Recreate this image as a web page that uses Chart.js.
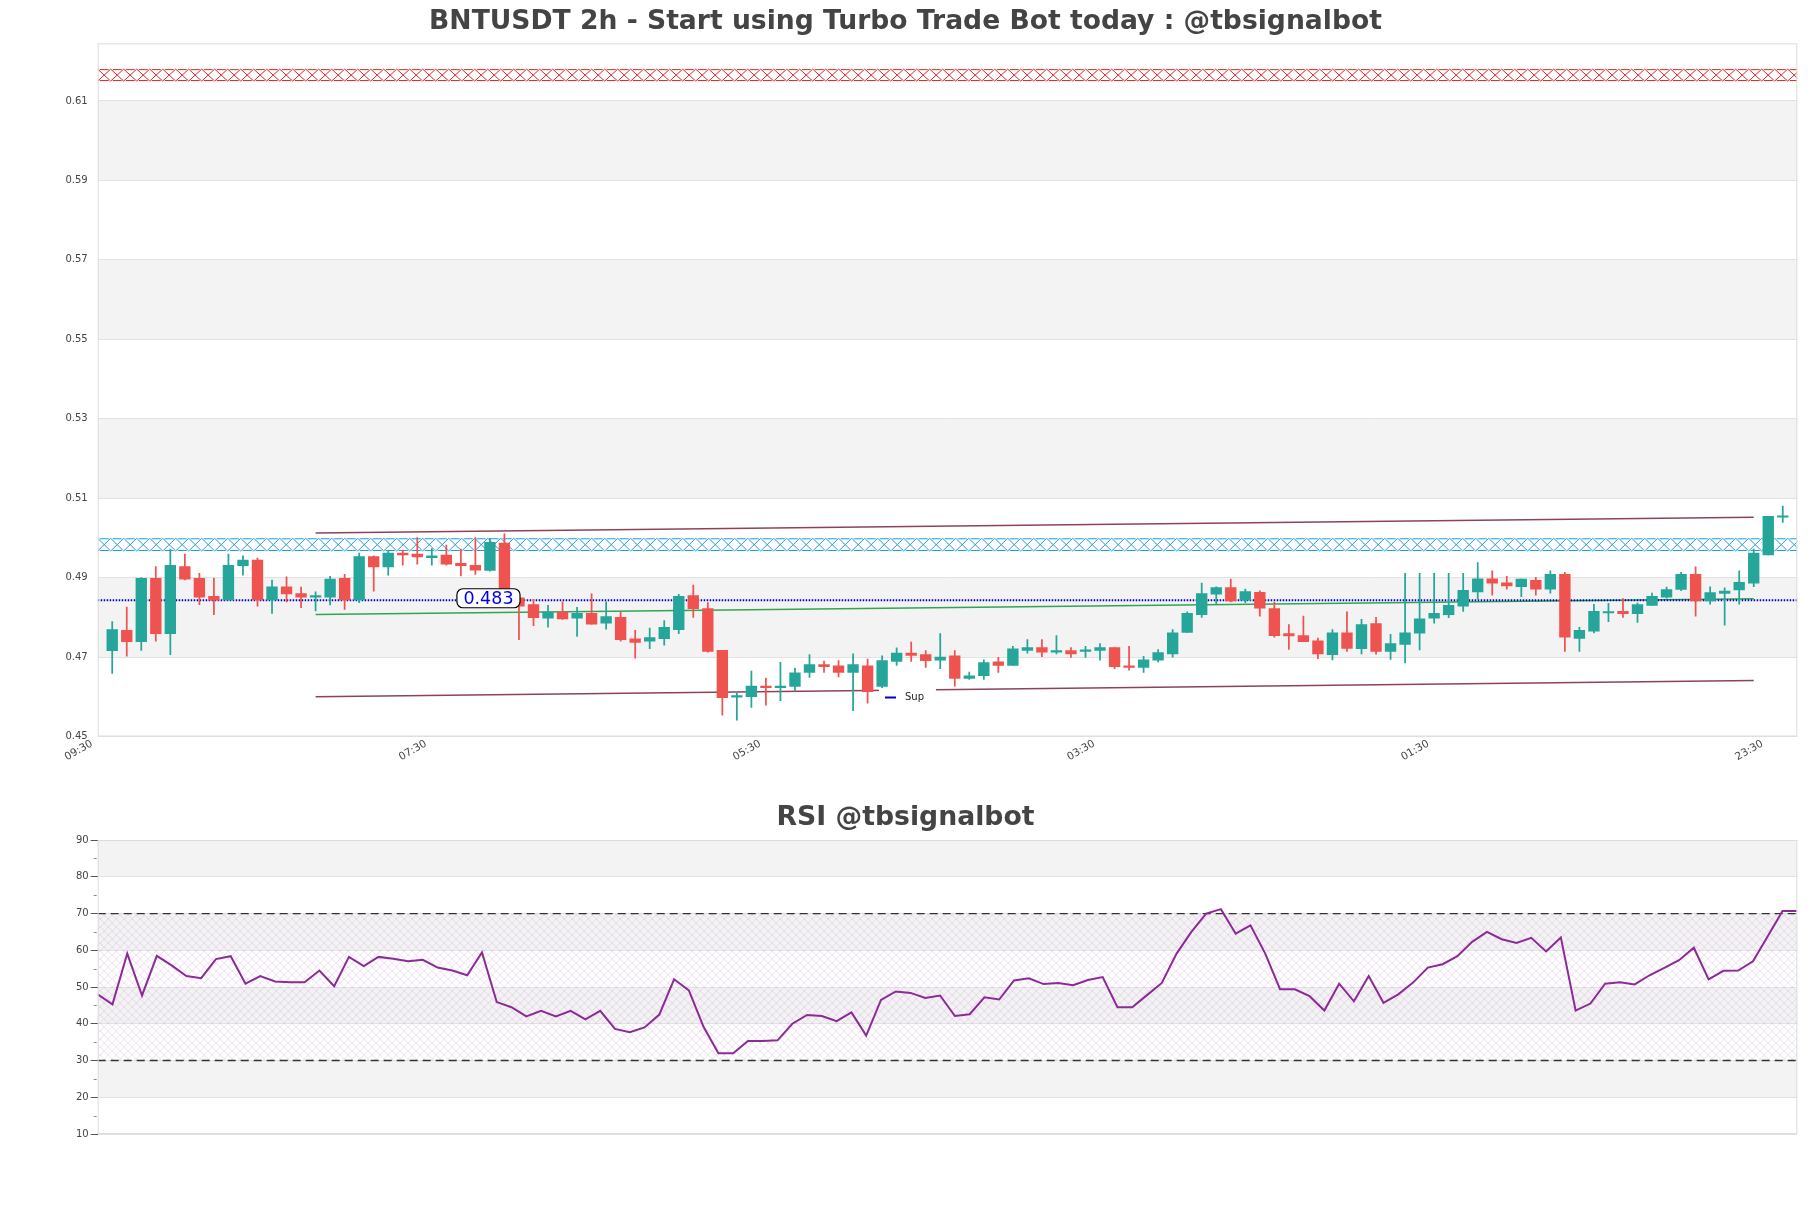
<!DOCTYPE html>
<html><head><meta charset="utf-8">
<script src="https://cdn.jsdelivr.net/npm/chart.js@4.4.1/dist/chart.umd.min.js"></script>
<style>
html,body{margin:0;padding:0;background:#fff;}
#wrap{position:relative;width:1811px;height:1208px;}
canvas{position:absolute;left:0;}
</style></head><body>
<div id="wrap">
<canvas id="main" width="1811" height="790" style="top:0;width:1811px;height:790px"></canvas>
<canvas id="rsi" width="1811" height="418" style="top:790px;width:1811px;height:418px"></canvas>
</div>
<script>
// ---------- DATA ----------
const mainTitle = 'BNTUSDT 2h - Start using Turbo Trade Bot today : @tbsignalbot';
const rsiTitle = 'RSI @tbsignalbot';
const xTickPos = [-1.4, 21.6, 44.6, 67.6, 90.6, 113.6];
const xTickLabels = ['09:30', '07:30', '05:30', '03:30', '01:30', '23:30'];
const yTicks = [0.45, 0.47, 0.49, 0.51, 0.53, 0.55, 0.57, 0.59, 0.61];
const priceGrayBands = [[0.47, 0.49], [0.51, 0.53], [0.55, 0.57], [0.59, 0.61]];

const opens = [
0.4716,0.4767,0.4739,0.4898,0.4759,0.4928,0.4898,0.4853,0.4844,0.4930,
0.4944,0.4844,0.4877,0.4860,0.4851,0.4851,0.4898,0.4844,0.4953,0.4927,
0.4962,0.4959,0.4950,0.4957,0.4936,0.4931,0.4918,0.4987,0.4849,0.4832,
0.4798,0.4813,0.4798,0.4810,0.4785,0.4800,0.4746,0.4740,0.4746,0.4769,
0.4855,0.4822,0.4717,0.4599,0.4600,0.4627,0.4623,0.4626,0.4661,0.4681,
0.4678,0.4661,0.4678,0.4626,0.4689,0.4710,0.4706,0.4692,0.4703,0.4646,
0.4653,0.4688,0.4679,0.4717,0.4724,0.4712,0.4716,0.4714,0.4717,0.4724,
0.4678,0.4674,0.4692,0.4708,0.4762,0.4807,0.4858,0.4875,0.4843,0.4863,
0.4822,0.4759,0.4754,0.4741,0.4706,0.4761,0.4721,0.4784,0.4714,0.4732,
0.4760,0.4798,0.4807,0.4828,0.4864,0.4897,0.4887,0.4877,0.4893,0.4871,
0.4908,0.4747,0.4765,0.4811,0.4815,0.4809,0.4830,0.4851,0.4870,0.4908,
0.4841,0.4860,0.4869,0.4886,0.4957,0.5052];
const closes = [
0.4769,0.4739,0.4898,0.4759,0.4931,0.4896,0.4851,0.4843,0.4931,0.4944,
0.4844,0.4877,0.4859,0.4851,0.4852,0.4896,0.4844,0.4953,0.4927,0.4962,
0.4957,0.4952,0.4955,0.4934,0.4930,0.4919,0.4989,0.4850,0.4828,0.4799,
0.4813,0.4796,0.4810,0.4783,0.4802,0.4744,0.4737,0.4749,0.4775,0.4853,
0.4822,0.4714,0.4598,0.4600,0.4627,0.4623,0.4627,0.4660,0.4681,0.4676,
0.4661,0.4681,0.4613,0.4691,0.4710,0.4704,0.4691,0.4700,0.4646,0.4653,
0.4686,0.4679,0.4721,0.4724,0.4712,0.4716,0.4708,0.4718,0.4724,0.4676,
0.4674,0.4693,0.4711,0.4761,0.4810,0.4860,0.4875,0.4841,0.4865,0.4823,
0.4754,0.4753,0.4739,0.4708,0.4761,0.4722,0.4782,0.4714,0.4734,0.4761,
0.4796,0.4810,0.4830,0.4868,0.4897,0.4886,0.4879,0.4896,0.4871,0.4908,
0.4750,0.4767,0.4815,0.4814,0.4809,0.4832,0.4853,0.4870,0.4908,0.4841,
0.4862,0.4866,0.4888,0.4962,0.5054,0.5054];
const highs = [
0.4789,0.4826,0.4900,0.4928,0.4972,0.4959,0.4911,0.4898,0.4959,0.4955,
0.4949,0.4894,0.4902,0.4876,0.4864,0.4903,0.4908,0.4962,0.4955,0.4968,
0.4969,0.5001,0.4973,0.4982,0.4972,0.5001,0.4999,0.5010,0.4853,0.4845,
0.4830,0.4839,0.4825,0.4859,0.4839,0.4813,0.4767,0.4773,0.4792,0.4858,
0.4881,0.4837,0.4717,0.4609,0.4665,0.4647,0.4687,0.4672,0.4706,0.4690,
0.4691,0.4708,0.4695,0.4703,0.4723,0.4738,0.4716,0.4759,0.4716,0.4662,
0.4693,0.4699,0.4727,0.4744,0.4744,0.4754,0.4724,0.4727,0.4734,0.4724,
0.4727,0.4702,0.4719,0.4769,0.4814,0.4886,0.4877,0.4896,0.4871,0.4867,
0.4838,0.4782,0.4803,0.4748,0.4769,0.4814,0.4795,0.4800,0.4757,0.4911,
0.4911,0.4911,0.4911,0.4911,0.4938,0.4917,0.4903,0.4896,0.4901,0.4917,
0.4913,0.4775,0.4833,0.4835,0.4847,0.4836,0.4861,0.4876,0.4913,0.4927,
0.4877,0.4874,0.4917,0.4972,0.5054,0.5080];
const lows = [
0.4659,0.4702,0.4717,0.4740,0.4706,0.4894,0.4832,0.4807,0.4844,0.4906,
0.4828,0.4810,0.4839,0.4824,0.4816,0.4831,0.4820,0.4837,0.4866,0.4906,
0.4931,0.4934,0.4931,0.4931,0.4904,0.4908,0.4916,0.4850,0.4744,0.4779,
0.4775,0.4795,0.4752,0.4783,0.4770,0.4740,0.4697,0.4721,0.4730,0.4759,
0.4800,0.4712,0.4554,0.4541,0.4573,0.4579,0.4590,0.4615,0.4649,0.4661,
0.4650,0.4565,0.4584,0.4613,0.4679,0.4689,0.4674,0.4671,0.4627,0.4644,
0.4644,0.4661,0.4679,0.4710,0.4701,0.4708,0.4699,0.4699,0.4692,0.4671,
0.4667,0.4661,0.4688,0.4700,0.4762,0.4800,0.4833,0.4839,0.4837,0.4803,
0.4750,0.4719,0.4739,0.4696,0.4693,0.4714,0.4708,0.4707,0.4694,0.4685,
0.4718,0.4785,0.4799,0.4815,0.4846,0.4856,0.4871,0.4852,0.4856,0.4861,
0.4714,0.4714,0.4761,0.4789,0.4800,0.4787,0.4830,0.4848,0.4867,0.4803,
0.4833,0.4780,0.4833,0.4877,0.4957,0.5039];

const trendX = [14, 113];
const upperTrend = [0.5012, 0.5052];
const lowerTrend = [0.4600, 0.4641];
const greenTrend = [0.4807, 0.4847];
const supLevel = 0.4843;
const supLineX = [-1, 116];
const supLabelText = '0.483';
const supLabelPos = [25.9, 0.4848];
const resistanceZone = [0.6150, 0.6180];
const supportZone = [0.4967, 0.4999];

const rsiValues = [
48.0,45.3,59.1,47.7,58.5,55.9,53.0,52.4,57.6,58.4,
50.9,53.0,51.5,51.3,51.3,54.5,50.2,58.2,55.7,58.2,
57.7,57.0,57.4,55.3,54.5,53.2,59.4,45.9,44.5,42.0,
43.5,42.0,43.5,41.2,43.5,38.6,37.7,39.0,42.5,52.1,
49.1,39.1,32.0,32.0,35.3,35.3,35.5,40.0,42.4,42.1,
40.7,43.1,36.8,46.5,48.8,48.4,47.0,47.7,42.1,42.6,
47.2,46.6,51.8,52.4,50.8,51.1,50.5,51.9,52.7,44.5,
44.5,47.8,51.1,59.1,65.0,70.0,71.2,64.5,66.8,59.1,
49.4,49.4,47.5,43.6,50.9,46.1,53.0,45.7,48.0,51.2,
55.3,56.2,58.4,62.3,65.0,63.0,62.0,63.4,59.7,63.5,
43.6,45.5,50.9,51.3,50.7,53.2,55.2,57.3,60.7,52.1,
54.4,54.5,57.0,63.8,70.7,70.7];
const rsiGrayBands = [[20, 30], [40, 50], [60, 70], [80, 90]];
const rsiHatchZone = [30, 70];
const rsiLevels = [30, 70];

// ---------- STYLE ----------
Chart.defaults.font.family = '"DejaVu Sans", sans-serif';
const UP = '#26a69a', DOWN = '#ef5350';
const candleColor = i => (closes[i] >= opens[i] ? UP : DOWN);
const idx = opens.map((_, i) => i);

function hatchBand(ctx, a, yTop, yBot, color, cell) {
  ctx.save();
  ctx.beginPath(); ctx.rect(a.left, yTop - 1, a.right - a.left, yBot - yTop + 2); ctx.clip();
  ctx.strokeStyle = color; ctx.lineWidth = 1;
  ctx.beginPath();
  for (let x = a.left; x < a.right; x += cell) {
    ctx.moveTo(x, yTop); ctx.lineTo(x + cell, yBot);
    ctx.moveTo(x + cell, yTop); ctx.lineTo(x, yBot);
  }
  ctx.stroke();
  ctx.setLineDash([cell - 4, 4]); ctx.lineDashOffset = -2;
  ctx.beginPath();
  ctx.moveTo(a.left, yTop + 0.5); ctx.lineTo(a.right, yTop + 0.5);
  ctx.moveTo(a.left, yBot - 0.5); ctx.lineTo(a.right, yBot - 0.5);
  ctx.stroke();
  ctx.restore();
}

const mainDecor = {
  id: 'mainDecor',
  beforeDraw(chart) {
    const {ctx, chartArea: a, scales: {y}} = chart;
    ctx.save();
    ctx.fillStyle = '#fff'; ctx.fillRect(0, 0, chart.width, chart.height);
    ctx.fillStyle = '#f3f3f3';
    for (const [lo, hi] of priceGrayBands) {
      const y1 = y.getPixelForValue(hi), y2 = y.getPixelForValue(lo);
      ctx.fillRect(a.left, y1, a.right - a.left, y2 - y1);
    }
    ctx.restore();
  },
  beforeDatasetsDraw(chart) {
    const {ctx, chartArea: a, scales: {y}} = chart;
    hatchBand(ctx, a, y.getPixelForValue(resistanceZone[1]), y.getPixelForValue(resistanceZone[0]), 'rgb(215,40,40)', 13);
    hatchBand(ctx, a, y.getPixelForValue(supportZone[1]), y.getPixelForValue(supportZone[0]), 'rgb(30,155,225)', 13);
  },
  afterDatasetsDraw(chart) {
    const {ctx, chartArea: a, scales: {x, y}} = chart;
    ctx.save();
    // legend box
    ctx.fillStyle = '#fff';
    ctx.fillRect(879, 688, 57, 20);
    ctx.strokeStyle = '#0000cc'; ctx.lineWidth = 2;
    ctx.beginPath(); ctx.moveTo(885, 697.5); ctx.lineTo(896, 697.5); ctx.stroke();
    ctx.fillStyle = '#222'; ctx.font = '10px "DejaVu Sans"';
    ctx.textAlign = 'left'; ctx.textBaseline = 'middle';
    ctx.fillText('Sup', 905, 697);
    // value label
    const lx = x.getPixelForValue(supLabelPos[0]), ly = y.getPixelForValue(supLabelPos[1]);
    ctx.font = '17.5px "DejaVu Sans"';
    const tw = ctx.measureText(supLabelText).width;
    const w = tw + 13, h = 19;
    ctx.beginPath();
    ctx.roundRect(lx - w / 2, ly - h / 2, w, h, 6);
    ctx.fillStyle = '#fff'; ctx.fill();
    ctx.strokeStyle = '#000'; ctx.lineWidth = 1.2; ctx.stroke();
    ctx.fillStyle = '#0000ee'; ctx.textAlign = 'center'; ctx.textBaseline = 'middle';
    ctx.fillText(supLabelText, lx, ly + 1);
    ctx.restore();
  },
  afterDraw(chart) {
    const {ctx, chartArea: a} = chart;
    ctx.save(); ctx.strokeStyle = '#dcdcdc'; ctx.lineWidth = 1;
    ctx.strokeRect(a.left + 0.5, a.top + 0.5, a.right - a.left - 1, a.bottom - a.top - 1);
    ctx.restore();
  }
};

const line2 = (xs, ys) => xs.map((xv, k) => ({x: xv, y: ys[k]}));

new Chart(document.getElementById('main'), {
  type: 'bar',
  data: {
    datasets: [
      {type: 'bar', label: 'body', data: idx.map(i => ({x: i, y: [opens[i], closes[i]]})),
        backgroundColor: c => candleColor(c.dataIndex), barThickness: 10.7, minBarLength: 1.5,
        grouped: false, borderWidth: 0, order: 0},
      {type: 'bar', label: 'wick', data: idx.map(i => ({x: i, y: [lows[i], highs[i]]})),
        backgroundColor: c => candleColor(c.dataIndex), barThickness: 1.1,
        grouped: false, borderWidth: 0, order: 1},
      {type: 'line', label: 'upper', data: line2(trendX, upperTrend), borderColor: 'rgba(130,45,70,0.9)',
        borderWidth: 1.5, pointRadius: 0, order: 3},
      {type: 'line', label: 'lower', data: line2(trendX, lowerTrend), borderColor: 'rgba(130,45,70,0.9)',
        borderWidth: 1.5, pointRadius: 0, order: 3},
      {type: 'line', label: 'green', data: line2(trendX, greenTrend), borderColor: 'rgb(50,165,80)',
        borderWidth: 1.5, pointRadius: 0, order: 3},
      {type: 'line', label: 'Sup', data: line2(supLineX, [supLevel, supLevel]), borderColor: '#0000cc',
        borderWidth: 2.2, borderDash: [1.5, 1.5], pointRadius: 0, order: 2}
    ]
  },
  options: {
    responsive: false, animation: false, devicePixelRatio: 1,
    layout: {padding: {left: 0, right: 0, top: 0, bottom: 0}},
    plugins: {
      legend: {display: false}, tooltip: {enabled: false},
      title: {display: true, text: mainTitle, color: '#444',
        font: {size: 26.6, weight: 'bold'}, padding: {top: 6, bottom: 5.4}}
    },
    scales: {
      x: {type: 'linear', min: -1, max: 116, offset: false,
        afterFit: s => { s.height = 53.5; },
        afterBuildTicks: s => { s.ticks = xTickPos.map(v => ({value: v})); },
        grid: {display: false}, border: {display: false},
        ticks: {autoSkip: false, minRotation: 30, maxRotation: 30, padding: -7,
          color: '#444', font: {size: 10.5}, callback: (v, i) => xTickLabels[i]}},
      y: {type: 'linear', min: 0.45, max: 0.6245,
        afterFit: s => { s.width = 97.7; },
        afterBuildTicks: s => { s.ticks = yTicks.map(v => ({value: v})); },
        grid: {color: '#e2e2e2', drawTicks: false}, border: {display: false},
        ticks: {padding: 10, color: '#444', font: {size: 10}, callback: v => Number(v).toFixed(2)}},
      yR: {type: 'linear', position: 'right', display: true,
        afterFit: s => { s.width = 13.7; },
        grid: {display: false}, border: {display: false}, ticks: {display: false}}
    }
  },
  plugins: [mainDecor]
});

// ---------- RSI ----------
const rsiDecor = {
  id: 'rsiDecor',
  beforeDraw(chart) {
    const {ctx, chartArea: a, scales: {y}} = chart;
    ctx.save();
    ctx.fillStyle = '#fff'; ctx.fillRect(0, 0, chart.width, chart.height);
    ctx.fillStyle = '#f3f3f3';
    for (const [lo, hi] of rsiGrayBands) {
      const y1 = y.getPixelForValue(hi), y2 = y.getPixelForValue(lo);
      ctx.fillRect(a.left, y1, a.right - a.left, y2 - y1);
    }
    ctx.restore();
  },
  beforeDatasetsDraw(chart) {
    const {ctx, chartArea: a, scales: {y}} = chart;
    const yT = y.getPixelForValue(rsiHatchZone[1]), yB = y.getPixelForValue(rsiHatchZone[0]);
    ctx.save();
    ctx.beginPath(); ctx.rect(a.left, yT, a.right - a.left, yB - yT); ctx.clip();
    ctx.strokeStyle = 'rgba(205,160,215,0.45)'; ctx.lineWidth = 0.7;
    ctx.beginPath();
    const hgt = yB - yT, step = 8;
    for (let x = a.left - hgt; x < a.right + hgt; x += step) {
      ctx.moveTo(x, yT); ctx.lineTo(x + hgt, yB);
      ctx.moveTo(x + hgt, yT); ctx.lineTo(x, yB);
    }
    ctx.stroke();
    ctx.restore();
    // minor tick marks
    ctx.save(); ctx.strokeStyle = '#888'; ctx.lineWidth = 1;
    ctx.beginPath();
    for (let v = 15; v < 90; v += 10) {
      const yy = Math.round(y.getPixelForValue(v)) + 0.5;
      ctx.moveTo(a.left - 4, yy); ctx.lineTo(a.left - 1, yy);
    }
    ctx.stroke(); ctx.restore();
  },
  afterDraw(chart) {
    const {ctx, chartArea: a} = chart;
    ctx.save(); ctx.strokeStyle = '#dcdcdc'; ctx.lineWidth = 1;
    ctx.strokeRect(a.left + 0.5, a.top + 0.5, a.right - a.left - 1, a.bottom - a.top - 1);
    ctx.restore();
  }
};

const rsiLast = rsiValues.length - 1;
new Chart(document.getElementById('rsi'), {
  type: 'line',
  data: {
    datasets: [
      {label: 'RSI', data: rsiValues.map((v, j) => ({x: j, y: v})), borderColor: '#8c2a98',
        borderWidth: 2, pointRadius: 0, tension: 0, order: 0},
      ...rsiLevels.map(lv => ({label: 'lvl' + lv, data: [{x: 0, y: lv}, {x: rsiLast, y: lv}],
        borderColor: '#333', borderWidth: 1.3, borderDash: [8, 5], pointRadius: 0, order: 1}))
    ]
  },
  options: {
    responsive: false, animation: false, devicePixelRatio: 1,
    layout: {padding: {left: 0, right: 0, top: 0, bottom: 74}},
    plugins: {
      legend: {display: false}, tooltip: {enabled: false},
      title: {display: true, text: rsiTitle, color: '#444',
        font: {size: 26.7, weight: 'bold'}, padding: {top: 12, bottom: 6}}
    },
    scales: {
      x: {type: 'linear', min: 0, max: rsiLast, display: false},
      y: {type: 'linear', min: 10, max: 90,
        afterFit: s => { s.width = 97.7; },
        border: {display: false},
        grid: {tickLength: 7,
          color: c => (c.tick && c.tick.value % 10 === 0 ? '#e2e2e2' : 'rgba(0,0,0,0)'),
          tickColor: c => (c.tick && c.tick.value % 10 === 0 ? '#555' : 'rgba(0,0,0,0)')},
        ticks: {stepSize: 5, padding: 2, color: '#444', font: {size: 10},
          callback: v => (v % 10 === 0 ? String(v) : '')}},
      yR: {type: 'linear', position: 'right', display: true,
        afterFit: s => { s.width = 13.7; },
        grid: {display: false}, border: {display: false}, ticks: {display: false}}
    }
  },
  plugins: [rsiDecor]
});
</script>
</body></html>
